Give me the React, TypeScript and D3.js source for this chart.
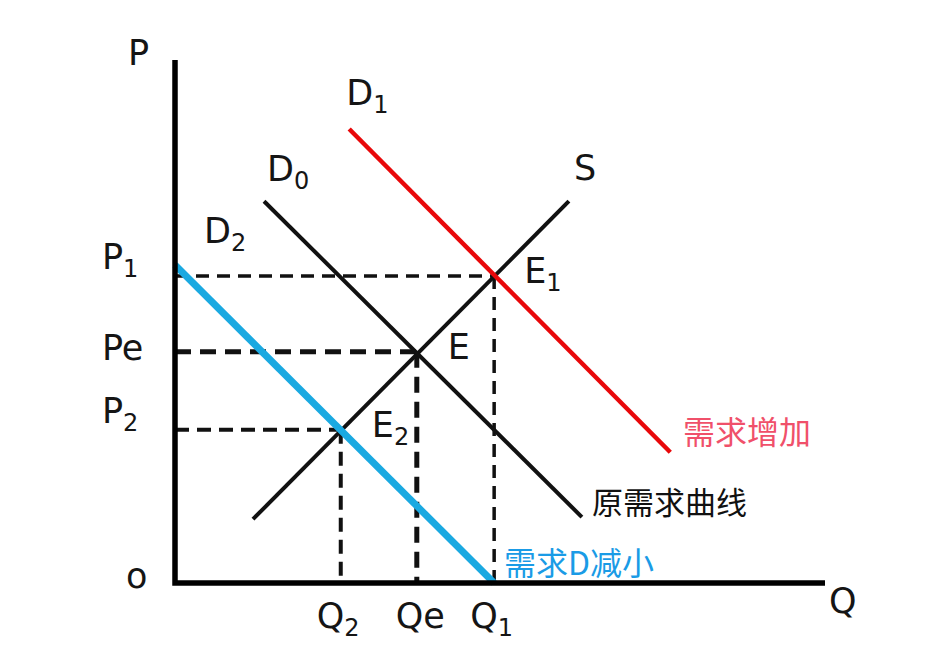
import React from "react";
import * as d3 from "d3";

// curve end points, in chart units (Q across, P up)
const supplyS = [
  { q: 12.0, p: 12.2 },
  { q: 60.6, p: 73.0 },
];
const demandD0 = [
  { q: 13.7, p: 73.0 },
  { q: 62.6, p: 12.6 },
];
const demandD1 = [
  { q: 26.8, p: 86.8 },
  { q: 76.2, p: 25.0 },
];
const demandD2 = [
  { q: 0, p: 60.8 },
  { q: 49.1, p: 0 },
];

// equilibria: E, E1, E2
const eqNames = ["E", "E1", "E2"];
const eqQ = [37.2, 49.1, 25.5];
const eqP = [44.2, 58.7, 29.3];
const pTickLabels = ["Pe", "P1", "P2"];
const qTickLabels = ["Qe", "Q1", "Q2"];

const width = 929;
const height = 663;
const margin = { top: 60, left: 175, right: 104, bottom: 80 };

const font = "'DejaVu Sans', Verdana, sans-serif";
const cjk = "'Noto Sans CJK SC', sans-serif";

// label text with optional subscript
const Label = ({ x, y, text, size = 35, color = "#151515" }: any) => {
  const main = text[0];
  const sub = text.slice(1);
  const isSub = /^[0-9]$/.test(sub);
  return (
    <text x={x} y={y} fontFamily={font} fontSize={size} fill={color}>
      {isSub ? (
        <>
          <tspan>{main}</tspan>
          <tspan dy={8} fontSize={24}>
            {sub}
          </tspan>
        </>
      ) : (
        text
      )}
    </text>
  );
};

export default function App() {
  const x = d3.scaleLinear([0, 100], [margin.left, width - margin.right]);
  const y = d3.scaleLinear([0, 100], [height - margin.bottom, margin.top]);
  const line = d3
    .line<{ q: number; p: number }>()
    .x((d) => x(d.q))
    .y((d) => y(d.p));

  const x0 = x(0);
  const y0 = y(0);

  // dash styling per equilibrium (E thicker)
  const dashW = [5, 3.5, 4];
  const dashA = ["16,9", "13,8", "14,8"];

  // label offsets from each equilibrium point
  const eqOff = [
    [31, 7],
    [30, 7],
    [31, 7],
  ];
  const pOff = [8, -7, -7];

  return (
    <svg
      width={width}
      height={height}
      style={{ position: "absolute", left: 0, top: 0, background: "#fff" }}
    >
      {/* dashed guides */}
      {eqQ.map((q, i) => (
        <g key={"g" + i} stroke="#111" fill="none">
          <line
            x1={x0}
            x2={x(q)}
            y1={y(eqP[i])}
            y2={y(eqP[i])}
            strokeWidth={dashW[i]}
            strokeDasharray={dashA[i]}
          />
          <line
            x1={x(q)}
            x2={x(q)}
            y1={y(eqP[i])}
            y2={y0}
            strokeWidth={dashW[i]}
            strokeDasharray={dashA[i]}
          />
        </g>
      ))}

      {/* curves */}
      <path d={line(supplyS)!} stroke="#111" strokeWidth={4} fill="none" />
      <path d={line(demandD0)!} stroke="#111" strokeWidth={4} fill="none" />
      <path d={line(demandD1)!} stroke="#e8080a" strokeWidth={4.5} fill="none" />
      <path d={line(demandD2)!} stroke="#1aa9e1" strokeWidth={7} fill="none" />

      {/* axes */}
      <path
        d={`M${x0},${y(100)}V${y0}H${x(100)}`}
        stroke="#000"
        strokeWidth={5.5}
        fill="none"
      />

      {/* axis titles */}
      <Label x={128} y={65} text="P" />
      <Label x={829} y={613} text="Q" />
      <Label x={126} y={588} text="o" />

      {/* price ticks */}
      {eqP.map((p, i) => (
        <Label key={"p" + i} x={102} y={y(p) + pOff[i]} text={pTickLabels[i]} />
      ))}
      {/* quantity ticks */}
      {eqQ.map((q, i) => (
        <Label
          key={"q" + i}
          x={x(q) - (i === 0 ? 21 : 24)}
          y={628}
          text={qTickLabels[i]}
        />
      ))}

      {/* equilibrium labels */}
      {eqQ.map((q, i) => (
        <Label
          key={"e" + i}
          x={x(q) + eqOff[i][0]}
          y={y(eqP[i]) + eqOff[i][1]}
          text={eqNames[i]}
        />
      ))}

      {/* curve names */}
      <Label x={x(supplyS[1].q) + 5} y={y(supplyS[1].p) - 21} text="S" />
      <Label x={x(demandD0[0].q) + 3} y={y(demandD0[0].p) - 20} text="D0" />
      <Label x={x(demandD1[0].q) - 3} y={y(demandD1[0].p) - 24} text="D1" />
      <Label x={204} y={243} text="D2" />

      {/* notes */}
      <text x={683} y={444} fontFamily={cjk} fontSize={32} fill="#f0506a">
        需求增加
      </text>
      <text x={592} y={514} fontFamily={cjk} fontSize={31} fill="#111">
        原需求曲线
      </text>
      <text x={504} y={575} fontFamily={cjk} fontSize={32} fill="#1a9be6">
        需求D减小
      </text>
    </svg>
  );
}
